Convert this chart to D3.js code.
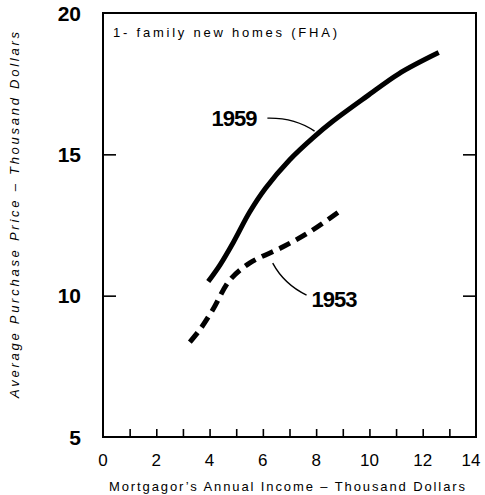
<!DOCTYPE html>
<html>
<head>
<meta charset="utf-8">
<script src="https://cdn.jsdelivr.net/npm/d3@7"></script>
<style>
  body { margin: 0; background: #fff; }
  text { fill: #000; font-family: "Liberation Sans", Arial, sans-serif; }
</style>
</head>
<body>
<script>

// values
var incomeTicks = [0, 2, 4, 6, 8, 10, 12, 14];
var minorTicks = [1, 2, 3, 4, 5, 6, 7, 8, 9, 10, 11, 12, 13];
var priceTicks = [5, 10, 15, 20];
var sideTicks = [10, 15];

var income1959 = [3.95, 4.4, 4.9, 5.5, 6.1, 7.0, 7.9, 8.6, 9.9, 11.1, 12.6];
var price1959  = [10.5, 11.1, 11.9, 12.95, 13.8, 14.8, 15.6, 16.15, 17.05, 17.85, 18.6];

var income1953 = [3.26, 3.63, 4.12, 4.76, 5.5, 6.74, 7.75, 8.95];
var price1953  = [8.36, 8.79, 9.5, 10.55, 11.15, 11.72, 12.25, 13.03];

var width = 485, height = 495;

var x = d3.scaleLinear().domain([0, 14]).range([103, 476]);
var y = d3.scaleLinear().domain([5, 20]).range([437, 13]);

var svg = d3.select("body").append("svg")
    .attr("width", width)
    .attr("height", height);

// frame
svg.append("rect")
    .attr("x", x(0))
    .attr("y", y(20))
    .attr("width", x(14) - x(0))
    .attr("height", y(5) - y(20))
    .attr("fill", "none")
    .attr("stroke", "#000")
    .attr("stroke-width", 2);

// bottom axis: small ticks pointing up, labels every 2
var xAxis = svg.append("g")
    .attr("transform", "translate(0," + y(5) + ")")
    .call(d3.axisTop(x).tickValues(minorTicks).tickSize(8).tickFormat(""));
xAxis.select(".domain").remove();
xAxis.selectAll("line").attr("stroke-width", 1.6);

svg.append("g").selectAll("text")
    .data(incomeTicks)
    .enter().append("text")
    .attr("x", function(d) { return x(d); })
    .attr("dx", function(d) { return d == 14 ? -5 : 0; })
    .attr("y", 466)
    .attr("text-anchor", "middle")
    .style("font-size", "17px")
    .text(function(d) { return d; });

// left axis
var yAxis = svg.append("g")
    .attr("transform", "translate(" + x(0) + ",0)")
    .call(d3.axisRight(y).tickValues(sideTicks).tickSize(13).tickFormat(""));
yAxis.select(".domain").remove();
yAxis.selectAll("line").attr("stroke-width", 1.6);

svg.append("g").selectAll("text")
    .data(priceTicks)
    .enter().append("text")
    .attr("x", 81)
    .attr("y", function(d) { return y(d); })
    .attr("dy", "0.36em")
    .attr("text-anchor", "end")
    .style("font-size", "21px")
    .style("font-weight", "bold")
    .text(function(d) { return d; });

// right axis
var rAxis = svg.append("g")
    .attr("transform", "translate(" + x(14) + ",0)")
    .call(d3.axisLeft(y).tickValues(sideTicks).tickSize(13).tickFormat(""));
rAxis.select(".domain").remove();
rAxis.selectAll("line").attr("stroke-width", 1.6);

// series
var line = d3.line()
    .x(function(d) { return x(d[0]); })
    .y(function(d) { return y(d[1]); })
    .curve(d3.curveCatmullRom.alpha(0.5));

svg.append("path")
    .attr("d", line(d3.zip(income1959, price1959)))
    .attr("fill", "none")
    .attr("stroke", "#000")
    .attr("stroke-width", 5);

svg.append("path")
    .attr("d", line(d3.zip(income1953, price1953)))
    .attr("fill", "none")
    .attr("stroke", "#000")
    .attr("stroke-width", 5)
    .attr("stroke-dasharray", "12,7");

// series labels with leader lines
svg.append("text")
    .attr("x", x(4.94))
    .attr("y", y(16.3))
    .attr("dy", "0.36em")
    .attr("text-anchor", "middle")
    .attr("textLength", 46)
    .style("font-size", "22px")
    .style("font-weight", "bold")
    .text("1959");

svg.append("path")
    .attr("d", "M" + x(6.17) + "," + y(16.28) + " Q" + x(7.2) + "," + y(16.3) + " " + x(7.94) + "," + y(15.82))
    .attr("fill", "none")
    .attr("stroke", "#000")
    .attr("stroke-width", 1.4);

svg.append("text")
    .attr("x", x(8.69))
    .attr("y", y(9.88))
    .attr("dy", "0.36em")
    .attr("text-anchor", "middle")
    .attr("textLength", 46)
    .style("font-size", "22px")
    .style("font-weight", "bold")
    .text("1953");

svg.append("path")
    .attr("d", "M" + x(6.37) + "," + y(11.15) + " Q" + x(6.8) + "," + y(10.4) + " " + x(7.64) + "," + y(10.02))
    .attr("fill", "none")
    .attr("stroke", "#000")
    .attr("stroke-width", 1.4);

// inset caption
svg.append("text")
    .attr("x", 113)
    .attr("y", 37)
    .attr("textLength", 224)
    .style("font-size", "13px")
    .text("1- family new homes (FHA)");

// axis titles
svg.append("text")
    .attr("x", 287)
    .attr("y", 491)
    .attr("text-anchor", "middle")
    .attr("textLength", 356)
    .style("font-size", "13px")
    .text("Mortgagor\u2019s Annual Income \u2013 Thousand Dollars");

svg.append("text")
    .attr("transform", "translate(19,215) rotate(-90)")
    .attr("text-anchor", "middle")
    .attr("textLength", 366)
    .style("font-size", "13px")
    .style("font-style", "italic")
    .text("Average Purchase Price \u2013 Thousand Dollars");

</script>
</body>
</html>
